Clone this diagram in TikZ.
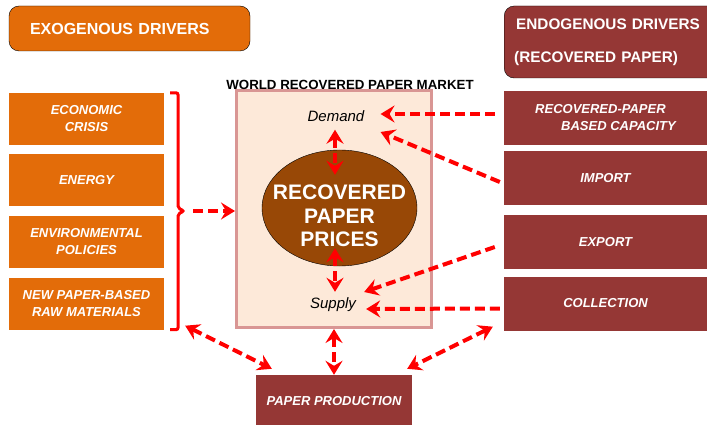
\documentclass[tikz,border=0pt]{standalone}
\usepackage{fontspec}
\setmainfont{Liberation Sans}
\usetikzlibrary{arrows.meta,calc,shapes.geometric}

\definecolor{exoorange}{HTML}{E36C09}
\definecolor{endored}{HTML}{953735}
\definecolor{marketfill}{HTML}{FDE9D9}
\definecolor{marketline}{HTML}{D99694}
\definecolor{pricebrown}{HTML}{984806}

\begin{document}
\begin{tikzpicture}[x=1pt,y=-1pt,
    header/.style={draw=black,rounded corners=10pt,text=white,align=left,
        font=\fontsize{16}{19}\selectfont\bfseries},
    exobox/.style={fill=exoorange,minimum width=155pt,minimum height=52pt,
        text=white,align=center,font=\fontsize{13}{17}\selectfont\bfseries\itshape},
    endobox/.style={exobox,fill=endored,minimum width=203pt,minimum height=54pt},
    marktext/.style={font=\fontsize{15}{18}\selectfont\itshape,inner sep=2pt},
    brace/.style={red,line width=3pt,rounded corners=2pt},
    flow/.style={red,line width=4pt,dash pattern=on 10pt off 5pt,
        -{Stealth[length=14pt,width=17pt,inset=5pt]}},
    twoway/.style={flow,{Stealth[length=14pt,width=17pt,inset=5pt]}-{Stealth[length=14pt,width=17pt,inset=5pt]}}]
    \useasboundingbox (0,0) rectangle (707,425);

    \node[header,fill=exoorange,minimum height=45pt,text width=199pt,inner xsep=21pt]
        (exo) at (129.5,28.5) {EXOGENOUS DRIVERS};
    \node[header,fill=endored,minimum height=72pt,text width=210pt,inner xsep=10pt,anchor=west,
        font=\fontsize{15.3}{19}\selectfont\bfseries]
        (endo) at (504,42) {\hspace*{2pt}ENDOGENOUS DRIVERS\\[14pt](RECOVERED PAPER)};

    \node[exobox] (crisis) at (86.5,119) {ECONOMIC\\CRISIS};
    \node[exobox] (energy) at (86.5,180) {ENERGY};
    \node[exobox] (policy) at (86.5,242) {ENVIRONMENTAL\\POLICIES};
    \node[exobox] (rawmat) at (86.5,303.5) {NEW PAPER-BASED\\RAW MATERIALS};

    \node[endobox,align=left] (capacity) at (605.5,118) {RECOVERED-PAPER\\\hspace*{26pt}BASED CAPACITY};
    \node[endobox] (import) at (605.5,178) {IMPORT};
    \node[endobox] (export) at (605.5,242) {EXPORT};
    \node[endobox] (collect) at (605.5,303.5) {COLLECTION};

    \node[draw=marketline,line width=3pt,fill=marketfill,minimum width=195pt,minimum height=237pt]
        (market) at (334,209) {};
    \node[font=\fontsize{13.3}{16}\selectfont\bfseries] (title) at (350,85) {WORLD RECOVERED PAPER MARKET};
    \node[ellipse,draw=black,fill=pricebrown,minimum width=155pt,minimum height=116pt]
        (prices) at (339.5,208) {};
    \node[text=white,align=center,font=\fontsize{21}{23.5}\selectfont\bfseries]
        (pricelabel) at (339.5,216) {RECOVERED\\PAPER\\PRICES};
    \node[marktext] (demand) at (336,116) {Demand};
    \node[marktext] (supply) at (333,305) {Supply};

    \node[endobox,minimum width=156pt,minimum height=52pt] (prod) at (334,401) {PAPER PRODUCTION};

    \coordinate (brk) at (184,211);
    \draw[brace] ($(crisis.north east)+(6,0)$) -| ($(brk)+(-6,-3)$) -- (brk)
        -- ($(brk)+(-6,3)$) |- ($(rawmat.south east)+(6,0)$);

    \draw[flow] ($(brk)+(9,0)$) -- (brk -| market.west);
    \draw[flow] ($(capacity.west)+(-9,-4)$) -- ($(demand.east)+(14,-2)$);
    \draw[flow] ($(import.west)+(-4,4)$) -- ($(demand.east)+(14,16)$);
    \draw[flow] ($(export.west)+(-9,5)$) -- ($(supply.east)+(6,-13)$);
    \draw[flow] ($(collect.west)+(-4,5)$) -- ($(supply.east)+(8,4)$);
    \draw[twoway] ($(collect.south west)+(-11,-4)$) -- ($(prod.north east)+(-5,-6)$);
    \draw[twoway] ($(rawmat.south east)+(21,-4)$) -- ($(prod.north west)+(16,-6)$);
    \draw[twoway] ($(demand.south)+(-1,6)$) -- ($(prices.north)+(-4.5,25)$);
    \draw[twoway] ($(prices.south)+(-4.5,-18)$) -- ($(supply.north)+(2,-4)$);
    \draw[twoway] (market.south) -- (prod.north);
\end{tikzpicture}
\end{document}
